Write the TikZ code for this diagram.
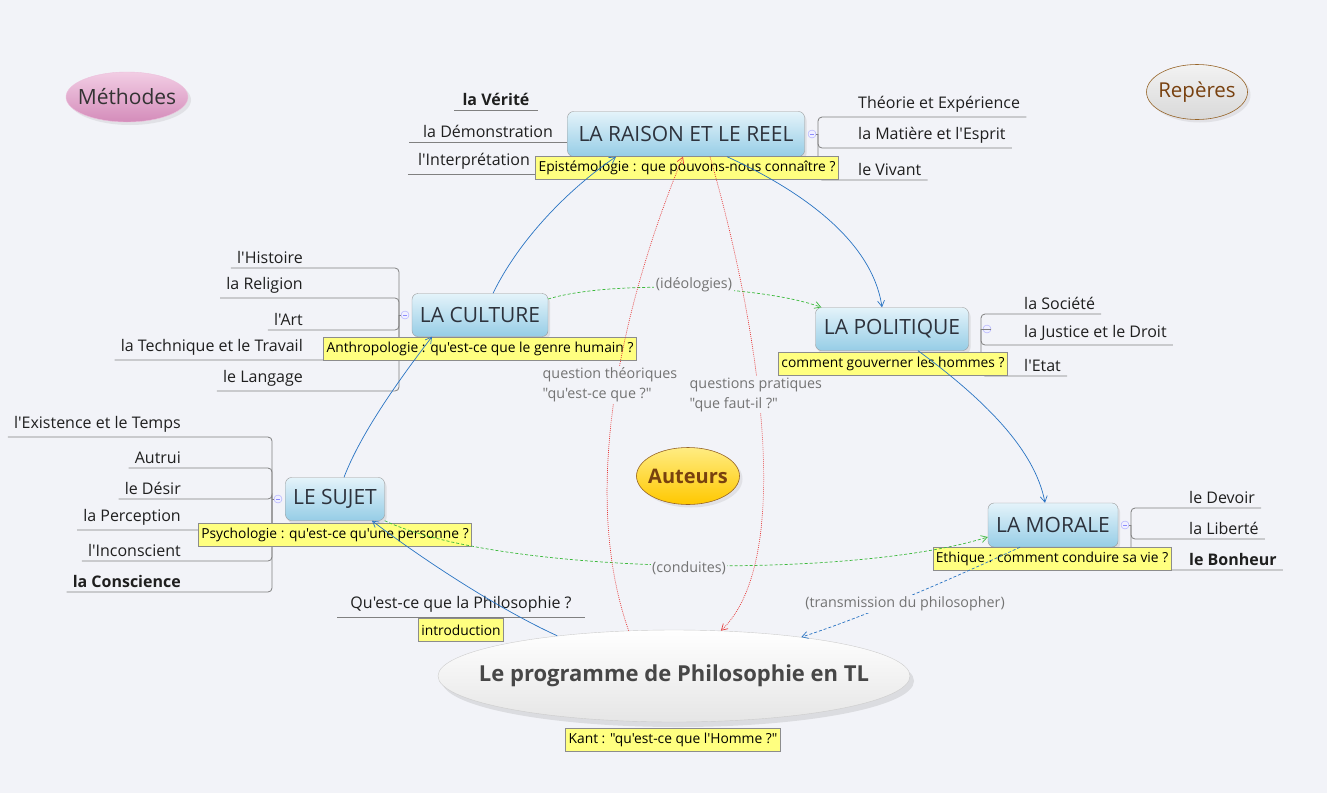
\documentclass[tikz,border=0pt]{standalone}
\usepackage{fontspec}
\setmainfont{Open Sans}[Ligatures=TeXOff]
\usetikzlibrary{shapes.geometric,arrows.meta,shadows,calc}
\definecolor{bg}{RGB}{242,243,248}
\definecolor{topA}{RGB}{228,243,250}
\definecolor{topB}{RGB}{150,205,230}
\definecolor{topT}{RGB}{45,50,60}
\definecolor{yel}{RGB}{255,255,128}
\definecolor{relblue}{RGB}{40,115,195}
\definecolor{relgreen}{RGB}{60,185,60}
\definecolor{relred}{RGB}{230,60,60}
\definecolor{pinkA}{RGB}{242,205,228}
\definecolor{pinkB}{RGB}{212,140,186}
\definecolor{brown}{RGB}{150,100,40}
\definecolor{brownT}{RGB}{120,65,15}
\definecolor{goldA}{RGB}{255,236,130}
\definecolor{goldB}{RGB}{255,200,0}
\begin{document}
\begin{tikzpicture}[x=1pt,y=-1pt,
  topic/.style={rectangle, rounded corners=6pt, draw=black!40, top color=topA, bottom color=topB,
    text=topT, font=\fontsize{21}{25}\selectfont, inner sep=0pt,
    drop shadow={opacity=0.18, shadow xshift=2pt, shadow yshift=-3pt}},
  oval/.style={ellipse, inner xsep=-12pt, inner ysep=0pt,
    drop shadow={opacity=0.15, shadow xshift=3pt, shadow yshift=-3pt}},
  callout/.style={fill=yel, draw=black!45, text=black, font=\fontsize{13.8}{16}\selectfont,
    inner xsep=3pt, inner ysep=0pt, minimum height=23pt},
  sub/.style={font=\fontsize{16}{19}\selectfont, text=black!88, inner xsep=6pt, inner ysep=4pt},
  branch/.style={draw=black!50, line width=0.8pt, rounded corners=4pt},
  collapse/.style={circle, draw=blue!35, fill=blue!6, minimum size=8pt, inner sep=0pt,
    path picture={\draw[blue!45] ([xshift=-2pt]path picture bounding box.center) -- ([xshift=2pt]path picture bounding box.center);}},
  rel/.style={line width=0.7pt, -{Straight Barb[length=6pt,width=7pt]}},
  relb/.style={rel, draw=relblue},
  relbd/.style={rel, draw=relblue, dash pattern=on 3pt off 2pt},
  relg/.style={rel, draw=relgreen, dash pattern=on 3pt off 2pt},
  relr/.style={rel, draw=relred, dash pattern=on 0.9pt off 1.1pt},
  lbl/.style={fill=bg, text=black!55, font=\fontsize{14.3}{20}\selectfont, inner sep=1.5pt, align=left}
]
\fill[bg] (0,0) rectangle (1327,793);
\useasboundingbox (0,0) rectangle (1327,793);

% ---------- floating topics
\node[oval, minimum width=122pt, minimum height=50pt, top color=pinkA, bottom color=pinkB,
  draw=pinkA!80!pinkB, text=black!80, font=\fontsize{21}{25}\selectfont] (meth) at (127,97) {Méthodes};
\node[oval, minimum width=101pt, minimum height=55pt, top color=white!95!black, bottom color=black!15,
  draw=brown, line width=0.6pt, text=brownT, font=\fontsize{20.5}{24}\selectfont] (rep) at (1197,92) {Repères};
\node[oval, minimum width=103pt, minimum height=57pt, top color=goldA, bottom color=goldB,
  draw=brown, line width=0.6pt, text=brownT, font=\bfseries\fontsize{20}{24}\selectfont] (aut) at (688,476) {Auteurs};

% ---------- main topics
\node[topic, minimum width=237pt, minimum height=45pt] (R) at (686,134) {LA RAISON ET LE REEL};
\node[topic, minimum width=136pt, minimum height=43pt] (CU) at (480,315) {LA CULTURE};
\node[topic, minimum width=153pt, minimum height=43pt] (P) at (892,329) {LA POLITIQUE};
\node[topic, minimum width=130pt, minimum height=44pt] (M) at (1053,525) {LA MORALE};
\node[topic, minimum width=99pt, minimum height=43pt] (S) at (335,499) {LE SUJET};

\node[ellipse, inner xsep=-45pt, inner ysep=0pt, minimum width=472pt, minimum height=92pt,
  top color=white, bottom color=black!10,
  draw=black!20, text=black!72, font=\bfseries\fontsize{22}{26}\selectfont,
  drop shadow={opacity=0.2, shadow xshift=4pt, shadow yshift=-5pt}] (C) at (674,676)
  {Le programme de Philosophie en TL};

% ---------- collapse circles and elbows
\node[collapse] (Rk) at (812,134) {};
\node[collapse] (CUk) at (405,315) {};
\node[collapse] (Pk) at (987,329) {};
\node[collapse] (Mk) at (1125,525) {};
\node[collapse] (Sk) at (278,499) {};
\coordinate (Re) at (818,134);
\coordinate (CUe) at (399,315);
\coordinate (Pe) at (981,329);
\coordinate (Me) at (1131,525);
\coordinate (Se) at (272,499);

% ---------- RAISON subtopics
\node[sub, anchor=south, minimum width=83pt] (v1) at (496,110) {\bfseries la Vérité};
\node[sub, anchor=south, minimum width=157pt] (v2) at (488,142) {la Démonstration};
\node[sub, anchor=south, minimum width=132pt] (v3) at (474,174) {l'Interprétation};
\draw[branch] (v1.south west) -- (v1.south east);
\draw[branch] (v2.south west) -- (v2.south east);
\draw[branch] (v3.south west) -- (v3.south east);

\node[sub, anchor=south west] (r1) at (852,117) {Théorie et Expérience};
\node[sub, anchor=south west] (r2) at (852,148) {la Matière et l'Esprit};
\node[sub, anchor=south west] (r3) at (852,180) {le Vivant};
\draw[branch] (Rk.east) -- (Re);
\foreach \n in {r1,r2,r3} \draw[branch] (Re) |- (\n.south west) -- (\n.south east);

% ---------- CULTURE subtopics
\node[sub, anchor=south east] (c1) at (309,268) {l'Histoire};
\node[sub, anchor=south east] (c2) at (309,298) {la Religion};
\node[sub, anchor=south east] (c3) at (309,330) {l'Art};
\node[sub, anchor=south east] (c4) at (309,360) {la Technique et le Travail};
\node[sub, anchor=south east] (c5) at (309,391) {le Langage};
\draw[branch] (CUk.west) -- (CUe);
\foreach \n in {c1,c2,c3,c4,c5} \draw[branch] (CUe) |- (\n.south east) -- (\n.south west);

% ---------- POLITIQUE subtopics
\node[sub, anchor=south west] (p1) at (1018,314) {la Société};
\node[sub, anchor=south west] (p2) at (1018,345) {la Justice et le Droit};
\node[sub, anchor=south west] (p3) at (1018,376) {l'Etat};
\draw[branch] (Pk.east) -- (Pe);
\foreach \n in {p1,p2,p3} \draw[branch] (Pe) |- (\n.south west) -- (\n.south east);

% ---------- MORALE subtopics
\node[sub, anchor=south west] (m1) at (1183,508) {le Devoir};
\node[sub, anchor=south west] (m2) at (1183,539) {la Liberté};
\node[sub, anchor=south west] (m3) at (1183,570) {\bfseries le Bonheur};
\draw[branch] (Mk.east) -- (Me);
\foreach \n in {m1,m2,m3} \draw[branch] (Me) |- (\n.south west) -- (\n.south east);

% ---------- SUJET subtopics
\node[sub, anchor=south east] (s1) at (187,437) {l'Existence et le Temps};
\node[sub, anchor=south east] (s2) at (187,468) {Autrui};
\node[sub, anchor=south east] (s3) at (187,499) {le Désir};
\node[sub, anchor=south east] (s4) at (187,530) {la Perception};
\node[sub, anchor=south east] (s5) at (187,561) {l'Inconscient};
\node[sub, anchor=south east] (s6) at (187,592) {\bfseries la Conscience};
\draw[branch] (Sk.west) -- (Se);
\foreach \n in {s1,s2,s3,s4,s5,s6} \draw[branch] (Se) |- (\n.south east) -- (\n.south west);

% ---------- central subtopic
\node[sub, anchor=south, minimum width=247pt] (q) at (461,617) {Qu'est-ce que la Philosophie ?};
\draw[branch] (q.south west) -- (q.south east);

% ---------- callouts
\node[callout] (Rc) at (687,168) {Epistémologie : que pouvons-nous connaître ?};
\node[callout] (CUc) at (480,349) {Anthropologie : qu'est-ce que le genre humain ?};
\node[callout] (Pc) at (893,364) {comment gouverner les hommes ?};
\node[callout] (Mc) at (1052,559) {Ethique : comment conduire sa vie ?};
\node[callout] (Sc) at (335,535) {Psychologie : qu'est-ce qu'une personne ?};
\node[callout] (qc) at (461,630) {introduction};
\node[callout] (Cc) at (673,740) {Kant : "qu'est-ce que l'Homme ?"};

% ---------- relationships
\draw[relb] ([xshift=9pt]S.north) .. controls (362,430) and (405,372) .. ([xshift=-48pt]CU.south);
\draw[relb] ([xshift=13pt]CU.north) .. controls (520,238) and (570,188) .. ([xshift=-70pt]R.south);
\draw[relb] ([xshift=41pt]R.south) .. controls (800,190) and (872,240) .. ([xshift=-10pt]P.north);
\draw[relb] ([xshift=26pt]P.south) .. controls (985,400) and (1035,450) .. ([xshift=-8pt]M.north);
\draw[relb] (C.161) .. controls (490,605) and (410,550) .. ([xshift=37pt]S.south);
\draw[relbd] ([xshift=-33pt]M.south) .. controls (960,575) and (870,615) .. (C.17);
\draw[relg] ([yshift=16pt]CU.east) .. controls (610,280) and (760,285) .. ([xshift=6pt]P.north west);
\draw[relg] (S.south east) .. controls (500,575) and (850,580) .. ([yshift=-12pt]M.west);
\draw[relr] (C.135) .. controls (572,470) and (640,260) .. ([xshift=-3pt]R.south);
\draw[relr] ([xshift=24pt]R.south) .. controls (760,330) and (795,560) .. (C.44);

% ---------- relationship labels
\node[lbl] (l1) at (694,285) {(idéologies)};
\node[lbl] (l2) at (689,568) {(conduites)};
\node[lbl] (l3) at (905,604) {(transmission du philosopher)};
\node[lbl, anchor=north west] (l4) at (541,366) {question théoriques\\"qu'est-ce que ?"};
\node[lbl, anchor=north west] (l5) at (688,376) {questions pratiques\\"que faut-il ?"};
\end{tikzpicture}
\end{document}
